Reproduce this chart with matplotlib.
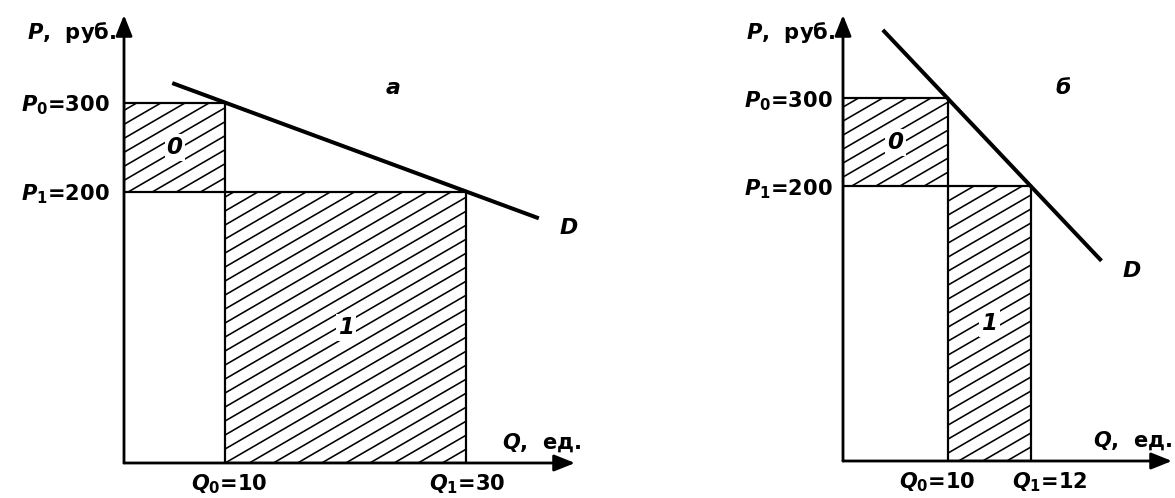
import matplotlib
matplotlib.use("Agg")
import numpy as np
import matplotlib.pyplot as plt
from matplotlib.patches import Rectangle
from matplotlib.transforms import IdentityTransform

# --- data ---
prices = [300, 200]            # P0, P1
qty_a = [10, 30]               # Q0, Q1 (panel a)
qty_b = [10, 12]               # Q0, Q1 (panel б)
demand_a_q = [5.6, 36.0]
demand_a_p = [322, 170]
demand_b_q = [8.43, 13.7]
demand_b_p = [378, 115]
panel_names = ["а", "б"]

plt.rcParams['font.family'] = ['DejaVu Sans']
plt.rcParams['mathtext.fontset'] = 'custom'
plt.rcParams['mathtext.it'] = 'DejaVu Sans:italic:bold'
plt.rcParams['mathtext.rm'] = 'DejaVu Sans:bold'

W, H, DPI = 1175, 498, 72
fig = plt.figure(figsize=(W / DPI, H / DPI), dpi=DPI)
fig.patch.set_facecolor('white')

FS = 21


def make_axes(x0, x1, ytop, ybot):
    return fig.add_axes([x0 / W, (H - ybot) / H, (x1 - x0) / W, (ybot - ytop) / H])


def hatch(ax, rect, step=14.0, slope=0.58):
    # diagonal hatching drawn in pixel space, clipped to the rectangle
    (x0, y0), (x1, y1) = ax.transData.transform(
        [(rect.get_x(), rect.get_y()),
         (rect.get_x() + rect.get_width(), rect.get_y() + rect.get_height())])
    for c in np.arange(y0 - slope * x1, y1 - slope * x0 + step, step):
        ln, = ax.plot([x0, x1], [slope * x0 + c, slope * x1 + c], color='black',
                      lw=1.6, transform=IdentityTransform())
        ln.set_clip_path(rect)


def draw_panel(ax, qs, dq, dp, xlim, ylim, name, name_pos, qoffs, poff, qlab_off):
    ax.set_xlim(*xlim)
    ax.set_ylim(*ylim)
    ax.set_axis_off()
    xmin, ymin = xlim[0], ylim[0]
    q0, q1 = qs
    p0, p1 = prices

    r0 = Rectangle((xmin, p1), q0 - xmin, p0 - p1, facecolor='white',
                   edgecolor='black', lw=2.2, zorder=1)
    r1 = Rectangle((q0, ymin), q1 - q0, p1 - ymin, facecolor='white',
                   edgecolor='black', lw=2.2, zorder=1)
    ax.add_patch(r0)
    ax.add_patch(r1)
    hatch(ax, r0)
    hatch(ax, r1)

    # axes with arrows
    arrow = dict(arrowstyle='-|>,head_length=0.8,head_width=0.32', lw=2.8,
                 color='black', mutation_scale=22, shrinkA=0, shrinkB=0)
    ax.annotate('', xy=(1, 0), xytext=(0, 0), xycoords='axes fraction', arrowprops=arrow)
    ax.annotate('', xy=(0, 1), xytext=(0, 0), xycoords='axes fraction', arrowprops=arrow)

    ax.plot(dq, dp, color='black', lw=4, solid_capstyle='butt', zorder=3)

    box = dict(facecolor='white', edgecolor='none', pad=2)
    ax.text((xmin + q0) / 2, (p0 + p1) / 2, '0', fontsize=23, fontstyle='italic',
            fontweight='bold', ha='center', va='center', bbox=box, zorder=4)
    ax.text((q0 + q1) / 2, (p1 + ymin) / 2, '1', fontsize=23, fontstyle='italic',
            fontweight='bold', ha='center', va='center', bbox=box, zorder=4)

    ax.annotate('D', xy=(dq[-1], dp[-1]), xytext=(30, -10), textcoords='offset points',
                fontsize=22, fontstyle='italic', fontweight='bold', ha='center', va='center')

    ax.text(name_pos[0], name_pos[1], name, transform=ax.transAxes, fontsize=22,
            fontstyle='italic', fontweight='bold', ha='center', va='center')

    # price labels
    for i, p in enumerate(prices):
        ax.annotate(r'$P_{%d}$=%d' % (i, p), xy=(0, p), xycoords=('axes fraction', 'data'),
                    xytext=(poff, -9), textcoords='offset points', fontsize=FS,
                    fontweight='bold', ha='right', va='baseline')
    # quantity labels
    for i, q in enumerate(qs):
        ax.annotate(r'$Q_{%d}$=%d' % (i, q), xy=(q, 0), xycoords=('data', 'axes fraction'),
                    xytext=(qoffs[i], -27), textcoords='offset points', fontsize=FS,
                    fontweight='bold', ha='center', va='baseline')

    ax.annotate(r'$Q$,  ед.', xy=(1, 0), xycoords='axes fraction', xytext=(qlab_off, 14),
                textcoords='offset points', fontsize=FS, fontweight='bold',
                ha='right', va='baseline')
    ax.annotate(r'$P$,  руб.', xy=(0, 1), xycoords='axes fraction', xytext=(-8, -24),
                textcoords='offset points', fontsize=FS, fontweight='bold',
                ha='right', va='baseline')


ax_a = make_axes(124, 575, 15, 463)
draw_panel(ax_a, qty_a, demand_a_q, demand_a_p, (1.6, 39.0), (-105, 398.5),
           panel_names[0], (0.596, 0.837), (4, 1), -14, 7)

ax_b = make_axes(843, 1172, 15, 461)
draw_panel(ax_b, qty_b, demand_b_q, demand_b_p, (7.47, 15.4), (-113, 395),
           panel_names[1], (0.669, 0.836), (-11, 19), -10, 1)

fig.savefig('out.png', dpi=DPI, facecolor='white')
